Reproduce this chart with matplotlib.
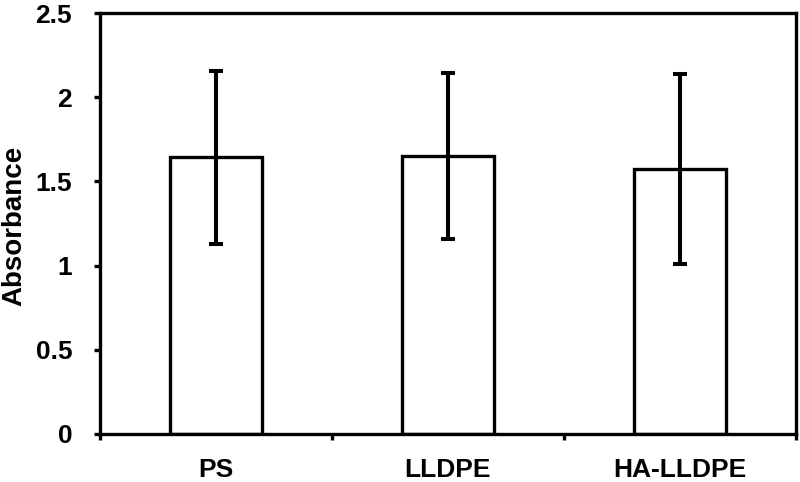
import numpy as np
import matplotlib
matplotlib.use("Agg")
import matplotlib.pyplot as plt

plt.rcParams['font.family'] = ['Liberation Sans', 'DejaVu Sans']
plt.rcParams['font.weight'] = 'bold'

# data
categories = ['PS', 'LLDPE', 'HA-LLDPE']
absorbance = [1.643, 1.653, 1.574]
err = [0.515, 0.493, 0.565]
y_ticks = [0, 0.5, 1, 1.5, 2, 2.5]
y_ticklabels = ['0', '0.5', '1', '1.5', '2', '2.5']

fig = plt.figure(figsize=(8, 4.82), dpi=100)
ax = fig.add_axes([0.125, 0.0996, 0.87, 0.8734])

x = np.arange(len(categories))
ax.bar(x, absorbance, width=0.4, color='white', edgecolor='black', linewidth=2.4,
       zorder=2)
ax.errorbar(x, absorbance, yerr=err, fmt='none', ecolor='black', elinewidth=2.9,
            capsize=5, capthick=2.9, zorder=3)

ax.set_xlim(-0.5, 2.5)
ax.set_ylim(0, 2.5)

# category labels between boundary ticks
ax.set_xticks(np.arange(-0.5, 3, 1))
ax.set_xticklabels([])
ax.set_xticks(x, minor=True)
ax.set_xticklabels(categories, minor=True)
ax.tick_params(axis='x', which='minor', length=0, pad=17, labelsize=19)
ax.tick_params(axis='x', which='major', direction='out', length=4, width=2.4)

ax.set_yticks(y_ticks)
ax.set_yticklabels(y_ticklabels)
ax.tick_params(axis='y', direction='out', length=4, width=2.4, pad=16, labelsize=19)

for s in ax.spines.values():
    s.set_linewidth(2.4)

ax.set_ylabel('Absorbance', fontsize=20, fontweight='bold')
ax.yaxis.set_label_coords(-0.104, 0.494)

fig.savefig('out.png', dpi=100)
